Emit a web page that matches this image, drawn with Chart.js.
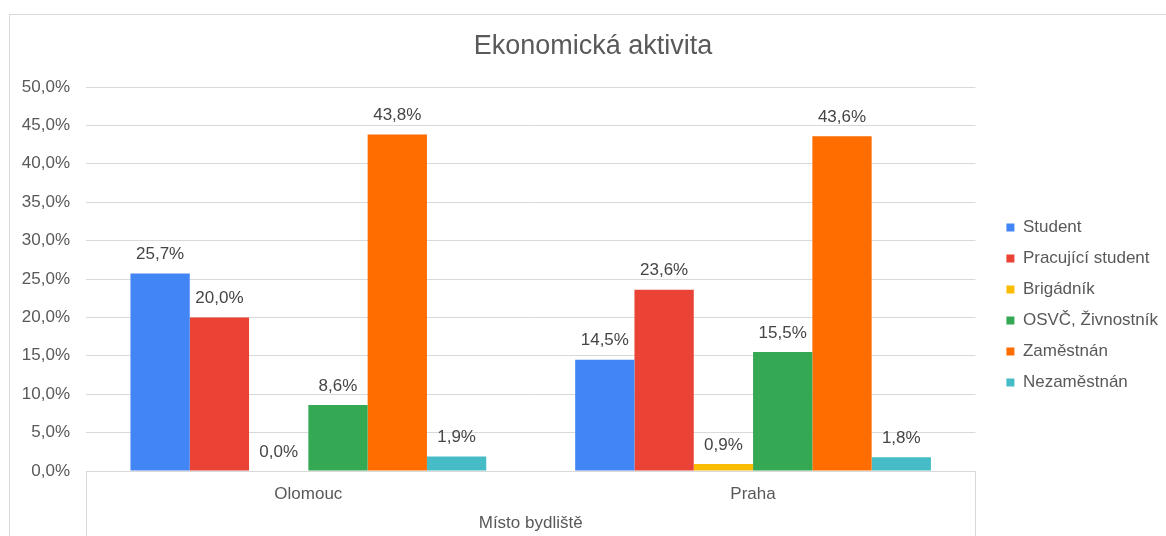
<!DOCTYPE html>
<html>
<head>
<meta charset="utf-8">
<script src="https://cdn.jsdelivr.net/npm/chart.js@4"></script>
<style>
  html, body { margin: 0; padding: 0; background: #fff; overflow: hidden; width: 1166px; height: 536px; }
  #frame { position: absolute; left: 9px; top: 14px; width: 1167px; height: 540px; border: 1px solid #d9d9d9; }
  #wrap { position: absolute; left: 0; top: 0; width: 1167px; height: 521px; }
</style>
</head>
<body>
<div id="frame"><div id="wrap"><canvas id="c"></canvas></div></div>
<script>
const chartTitle = 'Ekonomická aktivita';
const axisTitleX = 'Místo bydliště';
const categories = ['Olomouc', 'Praha'];
const seriesNames = ['Student', 'Pracující student', 'Brigádník', 'OSVČ, Živnostník', 'Zaměstnán', 'Nezaměstnán'];
const student = [25.7, 14.5];
const pracujiciStudent = [20.0, 23.6];
const brigadnik = [0.0, 0.9];
const osvc = [8.6, 15.5];
const zamestnan = [43.8, 43.6];
const nezamestnan = [1.9, 1.8];
const seriesValues = [student, pracujiciStudent, brigadnik, osvc, zamestnan, nezamestnan];
const seriesColors = ['#4285F4', '#EA4335', '#FBBC04', '#34A853', '#FF6D01', '#46BDC6'];
const yMin = 0, yMax = 50, yStep = 5;

const FONT = '"Liberation Sans", Arial, Helvetica, sans-serif';
const fmt = v => v.toFixed(1).replace('.', ',') + '%';

const valueLabels = {
  id: 'valueLabels',
  afterDatasetsDraw(chart) {
    const ctx = chart.ctx;
    ctx.save();
    ctx.font = '17px ' + FONT;
    ctx.fillStyle = '#454545';
    ctx.textAlign = 'center';
    ctx.textBaseline = 'middle';
    chart.data.datasets.forEach((ds, i) => {
      const meta = chart.getDatasetMeta(i);
      meta.data.forEach((bar, j) => {
        ctx.fillText(fmt(ds.data[j]), bar.x, bar.y - 19);
      });
    });
    ctx.restore();
  }
};

Chart.defaults.font.family = FONT;
Chart.defaults.color = '#595959';

new Chart(document.getElementById('c'), {
  type: 'bar',
  data: {
    labels: categories,
    datasets: seriesNames.map((name, i) => ({
      label: name,
      data: seriesValues[i],
      backgroundColor: seriesColors[i],
      borderWidth: 0,
      categoryPercentage: 0.8,
      barPercentage: 1.0
    }))
  },
  options: {
    responsive: true,
    maintainAspectRatio: false,
    animation: false,
    layout: { padding: { left: 8, right: 9, top: 0, bottom: 0 } },
    plugins: {
      title: {
        display: true,
        text: chartTitle,
        color: '#595959',
        font: { size: 27, weight: 'normal', family: FONT },
        padding: { top: 15, bottom: 24.6 }
      },
      legend: {
        position: 'right',
        align: 'center',
        title: { display: true, text: ' ', font: { size: 10 }, padding: { top: 0, bottom: 47 } },
        labels: {
          boxWidth: 8,
          boxHeight: 8,
          padding: 14,
          color: '#595959',
          font: { size: 17, family: FONT }
        }
      },
      tooltip: { enabled: false }
    },
    scales: {
      x: {
        grid: {
          drawOnChartArea: false,
          drawTicks: true,
          tickLength: 80,
          offset: true,
          color: ctx => (ctx.index === 1 ? 'rgba(0,0,0,0)' : '#d9d9d9')
        },
        border: { display: true, color: '#d9d9d9' },
        ticks: { padding: -67, color: '#595959', font: { size: 17 } },
        title: {
          display: true,
          text: axisTitleX,
          color: '#595959',
          font: { size: 17 },
          padding: { top: 0, bottom: 2 }
        },
        afterFit: s => { s.height = 65; }
      },
      y: {
        min: yMin,
        max: yMax,
        ticks: {
          stepSize: yStep,
          padding: 16,
          color: '#595959',
          font: { size: 17 },
          callback: v => fmt(v)
        },
        grid: { color: '#d9d9d9', drawTicks: false },
        border: { display: false },
        afterFit: s => { s.width = 68; }
      },
      pad: {
        type: 'linear',
        position: 'right',
        display: true,
        grid: { display: false, drawTicks: false },
        border: { display: false },
        ticks: { display: false },
        afterFit: s => { s.width = 17; }
      }
    }
  },
  plugins: [valueLabels]
});
</script>
</body>
</html>
